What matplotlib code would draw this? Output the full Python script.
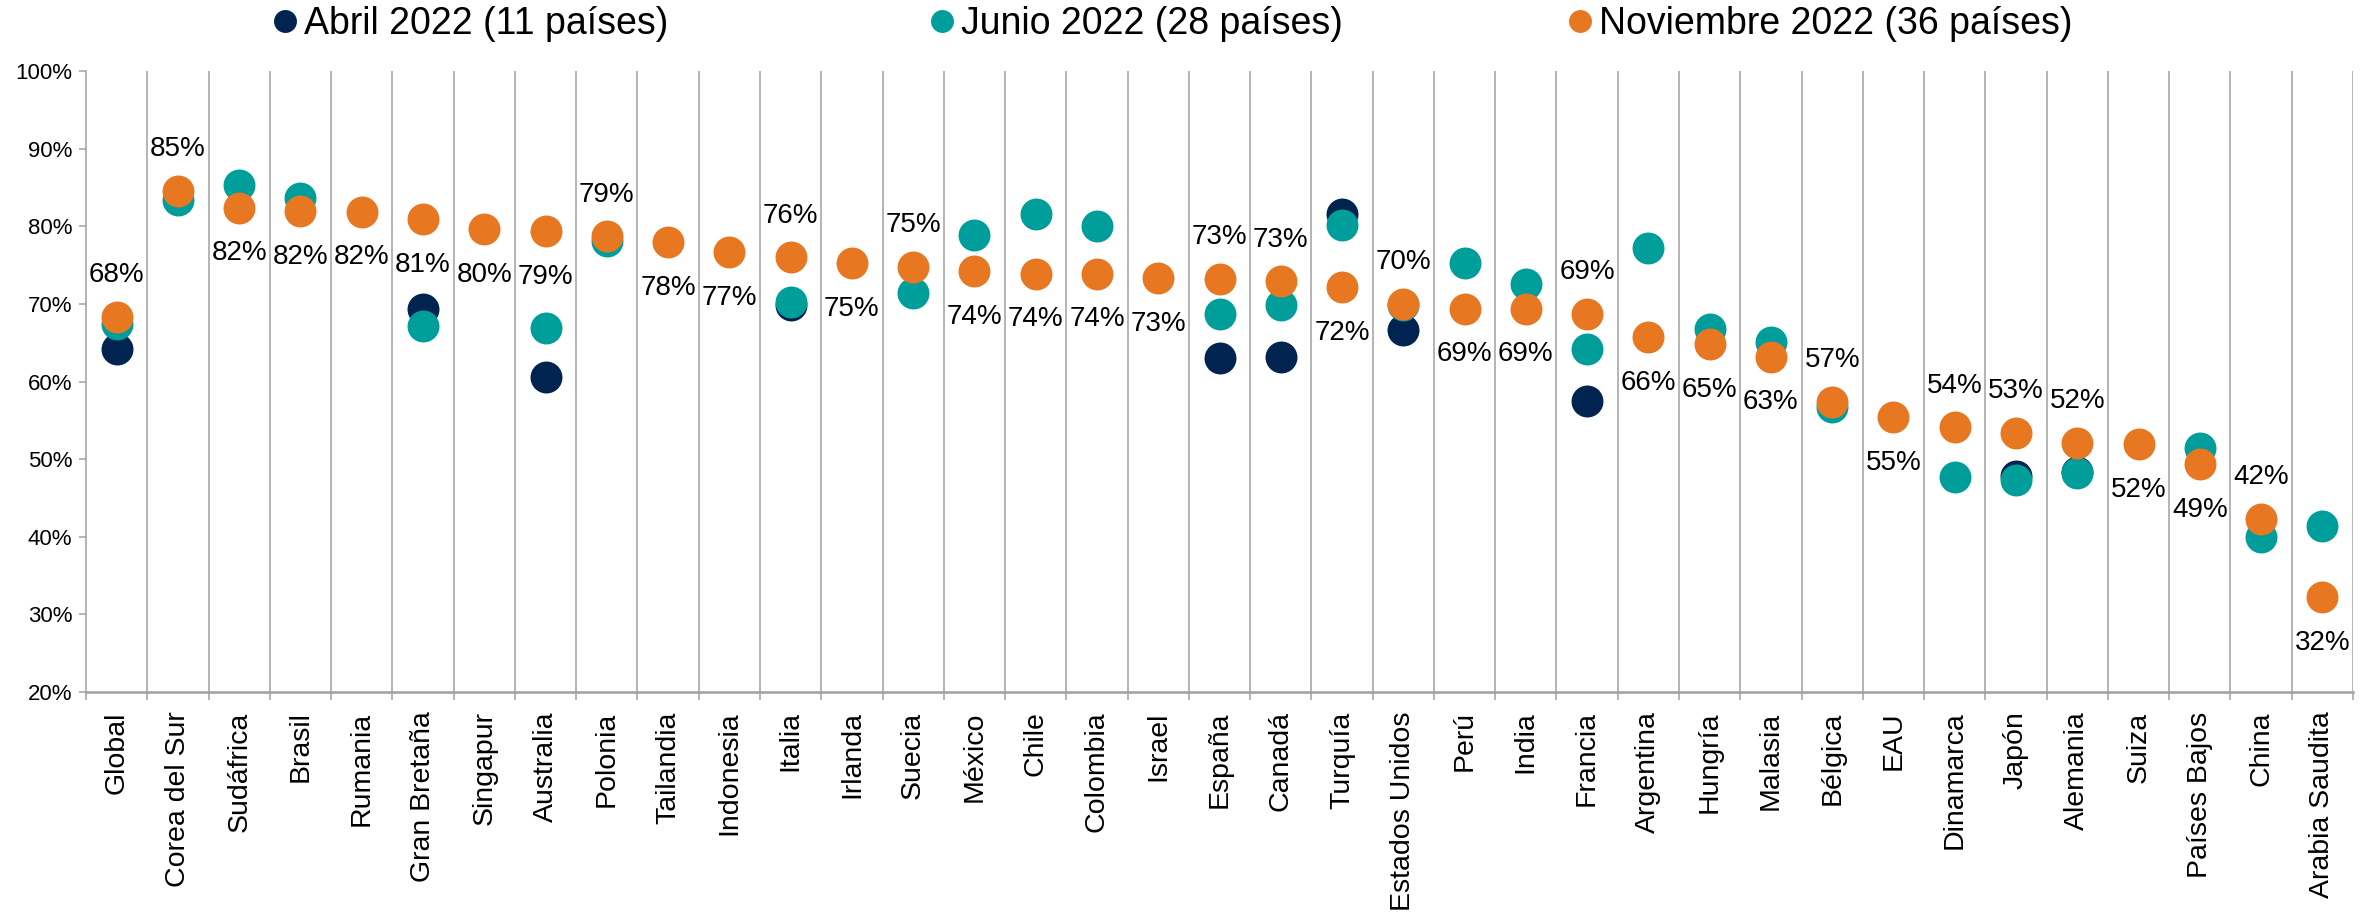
import numpy as np
import matplotlib.pyplot as plt
from matplotlib.lines import Line2D

plt.rcParams['font.family'] = ['Liberation Sans', 'DejaVu Sans']

paises = ['Global', 'Corea del Sur', 'Sudáfrica', 'Brasil', 'Rumania', 'Gran Bretaña',
          'Singapur', 'Australia', 'Polonia', 'Tailandia', 'Indonesia', 'Italia',
          'Irlanda', 'Suecia', 'México', 'Chile', 'Colombia', 'Israel', 'España',
          'Canadá', 'Turquía', 'Estados Unidos', 'Perú', 'India', 'Francia',
          'Argentina', 'Hungría', 'Malasia', 'Bélgica', 'EAU', 'Dinamarca', 'Japón',
          'Alemania', 'Suiza', 'Países Bajos', 'China', 'Arabia Saudita']
nan = np.nan
abril = [64.2, nan, nan, nan, nan, 69.3, nan, 60.6, nan, nan, nan, 69.9,
         nan, nan, nan, nan, nan, nan, 63.0, 63.1, 81.6, 66.6, nan, nan, 57.5,
         nan, nan, nan, nan, nan, nan, 47.8, 48.4, nan, nan, nan, nan]
junio = [67.4, 83.4, 85.3, 83.6, nan, 67.2, nan, 66.9, 78.1, nan, nan, 70.2,
         nan, 71.4, 78.9, 81.6, 80.0, nan, 68.7, 69.8, 80.2, 69.9, 75.3, 72.5, 64.2,
         77.2, 66.7, 65.1, 56.7, nan, 47.7, 47.3, 48.2, nan, 51.4, 40.0, 41.4]
noviembre = [68.3, 84.6, 82.4, 82.0, 81.9, 80.9, 79.6, 79.4, 78.7, 78.0, 76.7, 76.0,
             75.3, 74.8, 74.2, 73.9, 73.9, 73.3, 73.2, 72.9, 72.2, 70.0, 69.4, 69.4, 68.7,
             65.7, 64.8, 63.2, 57.4, 55.4, 54.1, 53.4, 52.1, 51.9, 49.4, 42.3, 32.2]
# label above (a) or below (b) the november dot
pos_etiqueta = ['a', 'a', 'b', 'b', 'b', 'b', 'b', 'b', 'a', 'b', 'b', 'a', 'b', 'a',
                'b', 'b', 'b', 'b', 'a', 'a', 'b', 'a', 'b', 'b', 'a', 'b', 'b', 'b',
                'a', 'b', 'a', 'a', 'a', 'b', 'b', 'a', 'b']

c_abril = '#00244F'
c_junio = '#009E9A'
c_nov = '#E87722'

fig = plt.figure(figsize=(23.72, 9.13), dpi=100)
ax = fig.add_axes([86/2372, 1-692/913, (2353-86)/2372, (692-71)/913])

x = np.arange(len(paises))
ms = 23
ax.plot(x, abril, 'o', ms=ms, color=c_abril, mew=0, zorder=3)
ax.plot(x, junio, 'o', ms=ms, color=c_junio, mew=0, zorder=4)
ax.plot(x, noviembre, 'o', ms=ms, color=c_nov, mew=0, zorder=5)

for i, v in enumerate(noviembre):
    dy = 30 if pos_etiqueta[i] == 'a' else -33
    ax.annotate(f'{v:.0f}%', (i, v), xytext=(0, dy), textcoords='offset points',
                ha='center', va='center', fontsize=20, zorder=6)

grid = '#A0A0A0'
for b in np.arange(0.5, len(paises) + 0.5, 1):
    ax.axvline(b, color=grid, lw=1.1, zorder=1)

ax.set_xlim(-0.5, len(paises) - 0.5)
ax.set_ylim(20, 100)
ax.set_yticks(np.arange(20, 101, 10))
ax.set_yticklabels([f'{t}%' for t in range(20, 101, 10)], fontsize=16)
ax.set_xticks(x)
ax.set_xticklabels(paises, rotation=90, fontsize=20.5)
ax.set_xticks(np.arange(-0.5, len(paises), 1), minor=True)
ax.tick_params(axis='x', which='major', length=0, pad=14)
ax.tick_params(axis='x', which='minor', length=6, color=grid, width=1.1)
ax.tick_params(axis='y', length=5, color=grid, width=1.1, pad=5)
for s in ['top', 'right']:
    ax.spines[s].set_visible(False)
ax.spines['left'].set_color(grid)
ax.spines['left'].set_linewidth(1.1)
ax.spines['bottom'].set_color(grid)
ax.spines['bottom'].set_linewidth(1.8)

series = [(c_abril, 'Abril 2022 (11 países)', 285),
          (c_junio, 'Junio 2022 (28 países)', 942),
          (c_nov, 'Noviembre 2022 (36 países)', 1580)]
for col, lab, xc in series:
    h = Line2D([], [], ls='none', marker='o', ms=16.5, color=col, mew=0)
    fig.legend(handles=[h], labels=[lab], loc='center left',
               bbox_to_anchor=((xc - 11) / 2372, 1 - 24 / 913), frameon=False,
               fontsize=27, handlelength=0.6, handletextpad=0.2, borderpad=0,
               borderaxespad=0)

fig.savefig('out.png', dpi=100)
